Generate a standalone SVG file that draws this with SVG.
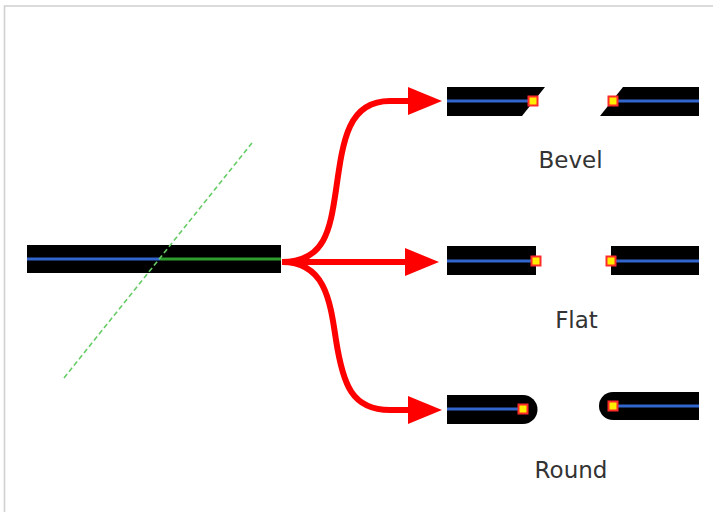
<svg xmlns="http://www.w3.org/2000/svg" width="713" height="512" viewBox="0 0 713 512">
<style>
.bar{fill:#000}
.blue{stroke:#3366cc;stroke-width:3;fill:none}
.green{stroke:#2e9e2e;stroke-width:3;fill:none}
.pt{fill:#ffee00;stroke:#ff2a2a;stroke-width:2}
.lbl{font-family:"DejaVu Sans",sans-serif;font-size:23px;fill:#333;text-anchor:middle}
.arrow{stroke:#ff0000;stroke-width:6;fill:none;marker-end:url(#ah)}
</style>
<defs>
<marker id="ah" markerUnits="userSpaceOnUse" markerWidth="36" markerHeight="30" refX="0" refY="14" orient="auto" overflow="visible">
<path d="M0,0 L34,14 L0,28 Z" fill="#ff0000"/>
</marker>
</defs>
<rect x="0" y="0" width="713" height="512" fill="#fff"/>
<path d="M4.5,512 V6 H713" fill="none" stroke="#d0d0d0" stroke-width="1.6"/>

<g id="source">
<rect class="bar" x="27" y="245" width="254" height="28"/>
<line class="blue" x1="27" y1="259" x2="160" y2="259"/>
<line class="green" x1="160" y1="259" x2="281" y2="259"/>
<line x1="64" y1="378" x2="252" y2="143" stroke="#66cc66" stroke-width="1.6" stroke-dasharray="5,3"/>
</g>

<g id="connectors">
<path class="arrow" d="M282,262 C325,262 330,230 336,190 C343,140 348,101 390,101 L408,101"/>
<path class="arrow" d="M282,262 L405,262"/>
<path class="arrow" d="M282,262 C325,262 330,300 336,340 C343,385 352,410 390,410 L408,410"/>
</g>

<g id="bevel">
<polygon class="bar" points="447,87 545,87 522,116 447,116"/>
<line class="blue" x1="447" y1="101" x2="533" y2="101"/>
<rect class="pt" x="528.5" y="96.5" width="9" height="9"/>
<polygon class="bar" points="623,87 699,87 699,116 600,116"/>
<line class="blue" x1="613" y1="101" x2="699" y2="101"/>
<rect class="pt" x="608.5" y="96.5" width="9" height="9"/>
<text class="lbl" x="570.5" y="168">Bevel</text>
</g>

<g id="flat">
<rect class="bar" x="447" y="246" width="89" height="29"/>
<line class="blue" x1="447" y1="261" x2="536" y2="261"/>
<rect class="pt" x="531.5" y="256.5" width="9" height="9"/>
<rect class="bar" x="611" y="246" width="88" height="29"/>
<line class="blue" x1="611" y1="261" x2="699" y2="261"/>
<rect class="pt" x="606.5" y="256.5" width="9" height="9"/>
<text class="lbl" x="576.5" y="328">Flat</text>
</g>

<g id="round">
<path class="bar" d="M447,395 H523 A14.5,14.5 0 0 1 523,424 H447 Z"/>
<line class="blue" x1="447" y1="409" x2="523" y2="409"/>
<rect class="pt" x="518.5" y="404.5" width="9" height="9"/>
<path class="bar" d="M699,392 H613 A14,14 0 0 0 613,420 H699 Z"/>
<line class="blue" x1="613" y1="406" x2="699" y2="406"/>
<rect class="pt" x="608.5" y="401.5" width="9" height="9"/>
<text class="lbl" x="571" y="478">Round</text>
</g>
</svg>
